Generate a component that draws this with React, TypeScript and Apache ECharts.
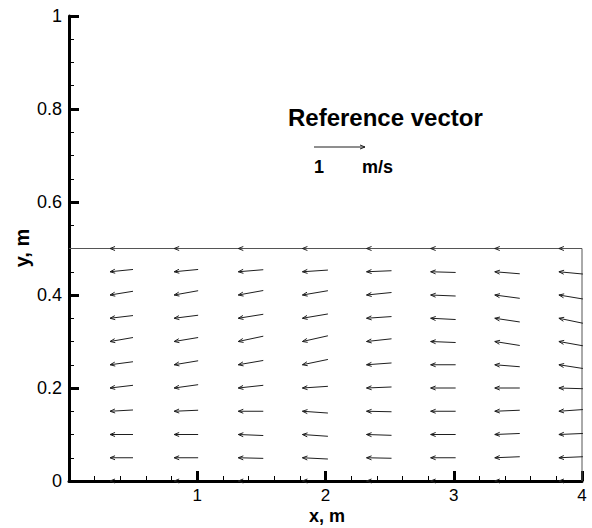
import React, { useEffect, useRef } from "react";
import * as echarts from "echarts";

// Grid point positions (arrow tips) in metres
const xPositions = [0.32, 0.82, 1.32, 1.82, 2.32, 2.82, 3.32, 3.82];
const yPositions = [0, 0.05, 0.1, 0.15, 0.2, 0.25, 0.3, 0.35, 0.4, 0.45, 0.5];

// Horizontal velocity (m/s) per column for interior rows, and at boundary rows
const uColumns = [-0.45, -0.47, -0.49, -0.5, -0.49, -0.49, -0.49, -0.47];
const uBoundary = -0.02;

// Vertical velocity (m/s), one row per y position (bottom to top)
const vRows = [
  [0, 0, 0, 0, 0, 0, 0, 0],
  [0, 0, 0.012, 0.025, 0.01, 0, -0.02, -0.02],
  [0, 0, 0.02, 0.035, 0.016, 0, -0.02, -0.02],
  [-0.025, -0.02, 0, 0.035, 0.01, 0, -0.02, -0.033],
  [-0.053, -0.065, -0.053, -0.033, -0.02, 0, 0, 0.014],
  [-0.059, -0.078, -0.084, -0.104, -0.035, 0, 0.039, 0.073],
  [-0.078, -0.078, -0.104, -0.112, -0.053, 0.02, 0.078, 0.084],
  [-0.053, -0.059, -0.078, -0.084, -0.033, 0.025, 0.073, 0.098],
  [-0.073, -0.084, -0.088, -0.084, -0.049, 0.02, 0.065, 0.078],
  [-0.045, -0.045, -0.04, -0.033, -0.02, 0.014, 0.04, 0.045],
  [0, 0, 0, 0, 0, 0, 0, 0],
];

// Domain boundary (free surface and right wall)
const boundary = [
  [0, 0.5],
  [4, 0.5],
  [4, 0],
];

const referenceSpeed = 1; // m/s
const referenceLabel = "Reference vector";
const referenceValue = "1";
const referenceUnit = "m/s";

const PX_PER_MS = 51;
const HEAD_LEN = 5;
const HEAD_HALF = 2;
const ARROW_COLOR = "#1f1f1f";
const FONT = "'Liberation Sans', Arial, Helvetica, sans-serif";

function buildVectors() {
  const out: number[][] = [];
  yPositions.forEach((y, r) => {
    xPositions.forEach((x, c) => {
      const isWall = r === 0 || r === yPositions.length - 1;
      out.push([x, y, isWall ? uBoundary : uColumns[c], vRows[r][c]]);
    });
  });
  return out;
}

function arrowHeadPoints(tx: number, ty: number, hx: number, hy: number) {
  let dx = hx - tx;
  let dy = hy - ty;
  const L = Math.hypot(dx, dy) || 1;
  dx /= L;
  dy /= L;
  const nx = -dy;
  const ny = dx;
  const bx = hx - dx * HEAD_LEN;
  const by = hy - dy * HEAD_LEN;
  return [
    [bx + nx * HEAD_HALF, by + ny * HEAD_HALF],
    [hx, hy],
    [bx - nx * HEAD_HALF, by - ny * HEAD_HALF],
  ];
}

export default function App() {
  const ref = useRef<HTMLDivElement>(null);

  useEffect(() => {
    if (!ref.current) return;
    const chart = echarts.init(ref.current, null, { renderer: "svg" });

    const refTailX = 314;
    const refY = 147;
    const refHeadX = refTailX + referenceSpeed * PX_PER_MS;

    chart.setOption({
      animation: false,
      backgroundColor: "#ffffff",
      grid: { left: 69, right: 10, top: 16, bottom: 47 },
      xAxis: {
        type: "value",
        min: 0,
        max: 4,
        interval: 1,
        axisLine: { show: true, lineStyle: { color: "#000", width: 3 } },
        axisTick: { show: true, inside: true, length: 10, lineStyle: { color: "#000", width: 3 } },
        minorTick: { show: true, splitNumber: 5, length: 5, lineStyle: { color: "#000", width: 1 } },
        splitLine: { show: false },
        axisLabel: {
          color: "#000",
          fontSize: 17,
          lineHeight: 16,
          fontFamily: FONT,
          margin: 6,
          formatter: (v: number) => (v === 0 ? "" : String(v)),
        },
      },
      yAxis: {
        type: "value",
        min: 0,
        max: 1,
        interval: 0.2,
        axisLine: { show: true, lineStyle: { color: "#000", width: 3 } },
        axisTick: { show: true, inside: true, length: 10, lineStyle: { color: "#000", width: 3 } },
        minorTick: { show: true, splitNumber: 4, length: 5, lineStyle: { color: "#000", width: 1 } },
        splitLine: { show: false },
        axisLabel: { color: "#000", fontSize: 18, fontFamily: FONT, margin: 7 },
      },
      graphic: [
        {
          type: "text",
          x: 327,
          y: 516,
          style: {
            text: "x, m",
            fontSize: 18,
            lineHeight: 16,
            fontWeight: "bold",
            fontFamily: FONT,
            fill: "#000",
            textAlign: "center",
            textVerticalAlign: "middle",
          },
        },
        {
          type: "text",
          x: 22,
          y: 248,
          rotation: Math.PI / 2,
          style: {
            text: "y, m",
            fontSize: 20,
            fontWeight: "bold",
            fontFamily: FONT,
            fill: "#000",
            textAlign: "center",
            textVerticalAlign: "middle",
          },
        },
        {
          type: "text",
          x: 288,
          y: 117,
          style: {
            text: referenceLabel,
            fontSize: 24,
            fontWeight: "bold",
            fontFamily: FONT,
            fill: "#000",
            textAlign: "left",
            textVerticalAlign: "middle",
          },
        },
        {
          type: "line",
          shape: { x1: refTailX, y1: refY, x2: refHeadX, y2: refY },
          style: { stroke: ARROW_COLOR, lineWidth: 1 },
        },
        {
          type: "polyline",
          shape: { points: arrowHeadPoints(refTailX, refY, refHeadX, refY) },
          style: { stroke: ARROW_COLOR, fill: "none", lineWidth: 1 },
        },
        {
          type: "text",
          x: 319,
          y: 167,
          style: {
            text: referenceValue,
            fontSize: 18,
            fontWeight: "bold",
            fontFamily: FONT,
            fill: "#000",
            textAlign: "center",
            textVerticalAlign: "middle",
          },
        },
        {
          type: "text",
          x: 362,
          y: 167,
          style: {
            text: referenceUnit,
            fontSize: 18,
            fontWeight: "bold",
            fontFamily: FONT,
            fill: "#000",
            textAlign: "left",
            textVerticalAlign: "middle",
          },
        },
      ],
      series: [
        {
          type: "line",
          data: boundary,
          symbol: "none",
          silent: true,
          lineStyle: { color: "#555", width: 1 },
          z: 1,
        },
        {
          type: "custom",
          coordinateSystem: "cartesian2d",
          data: buildVectors(),
          encode: { x: 0, y: 1 },
          silent: true,
          clip: false,
          z: 3,
          renderItem: (_params: any, api: any) => {
            const p = api.coord([api.value(0), api.value(1)]);
            const u = api.value(2) as number;
            const v = api.value(3) as number;
            const tx = p[0] - u * PX_PER_MS;
            const ty = p[1] + v * PX_PER_MS;
            return {
              type: "group",
              children: [
                {
                  type: "line",
                  shape: { x1: tx, y1: ty, x2: p[0], y2: p[1] },
                  style: { stroke: ARROW_COLOR, lineWidth: 1 },
                },
                {
                  type: "polyline",
                  shape: { points: arrowHeadPoints(tx, ty, p[0], p[1]) },
                  style: { stroke: ARROW_COLOR, fill: "none", lineWidth: 1 },
                },
              ],
            };
          },
        },
      ],
    });

    return () => chart.dispose();
  }, []);

  return (
    <div
      ref={ref}
      style={{ position: "absolute", left: 0, top: 0, width: 592, height: 528 }}
    />
  );
}
